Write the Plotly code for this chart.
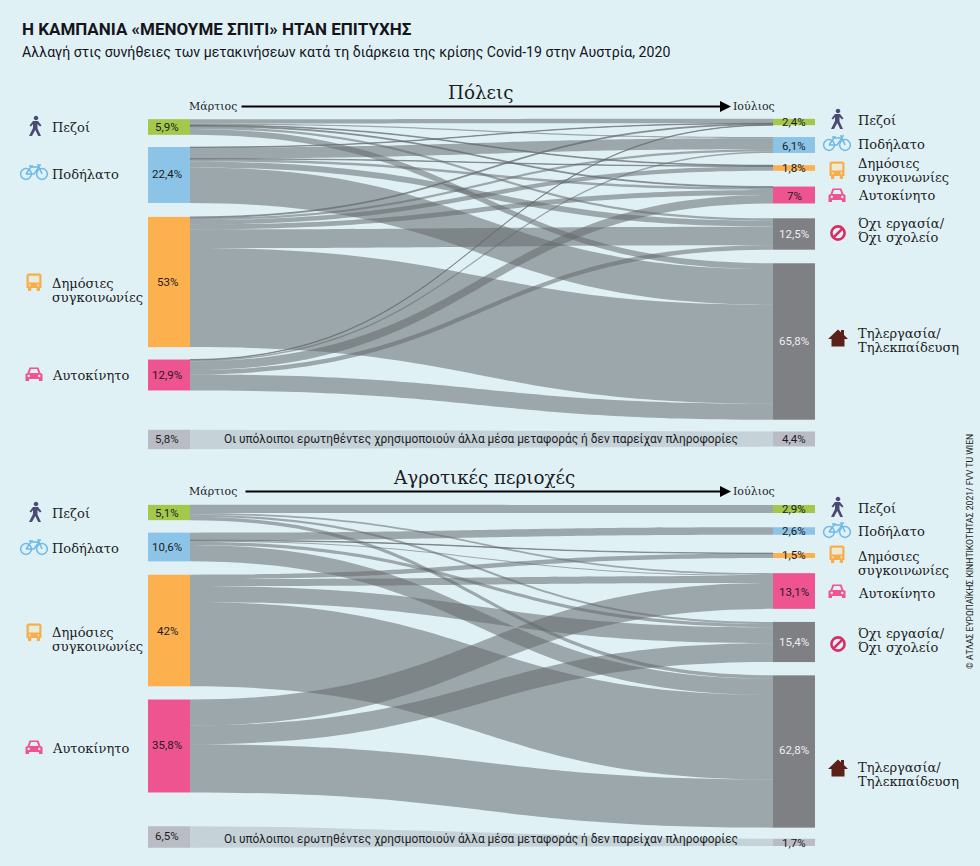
import numpy as np
import plotly.graph_objects as go

# ---------- DATA ----------
modes = ["Πεζοί", "Ποδήλατο", "Δημόσιες συγκοινωνίες", "Αυτοκίνητο"]
outcomes = ["Πεζοί", "Ποδήλατο", "Δημόσιες συγκοινωνίες", "Αυτοκίνητο",
            "Όχι εργασία/ Όχι σχολείο", "Τηλεργασία/ Τηλεκπαίδευση"]

city_march_labels = ["5,9%", "22,4%", "53%", "12,9%"]
city_july_labels = ["2,4%", "6,1%", "1,8%", "7%", "12,5%", "65,8%"]
rural_march_labels = ["5,1%", "10,6%", "42%", "35,8%"]
rural_july_labels = ["2,9%", "2,6%", "1,5%", "13,1%", "15,4%", "62,8%"]

# flows read from ribbon widths: rows = March mode, columns = July outcome
city_flows = [
    [1.8, 0.5, 0.3, 0.4, 1.0, 2.4],
    [0.2, 4.5, 0.2, 1.0, 2.4, 14.5],
    [0.4, 0.9, 1.8, 2.0, 7.6, 40.4],
    [0.2, 0.6, 0.0, 3.5, 1.8, 6.5],
]
rural_flows = [
    [3.1, 0.0, 0.0, 0.7, 0.8, 1.3],
    [0.0, 2.9, 0.2, 0.4, 1.3, 6.3],
    [0.0, 0.0, 1.7, 2.7, 6.1, 32.6],
    [0.0, 0.0, 0.0, 10.0, 7.3, 18.6],
]
city_other = [5.8, 4.4]
rural_other = [6.5, 1.7]
other_text = "Οι υπόλοιποι ερωτηθέντες χρησιμοποιούν άλλα μέσα μεταφοράς ή δεν παρείχαν πληροφορίες"

# ---------- STYLE / LAYOUT ----------
BG = "#e0f1f6"
LINK = "rgba(100,105,110,0.55)"
MODE_COLORS = ["#a4c84b", "#8cc4e8", "#fdb04e", "#ee5590"]
OUT_COLORS = MODE_COLORS + ["#7f8084", "#7f8084"]
OTHER_NODE = "#b9bcc4"
OTHER_BAND = "#c5d2d8"
SERIF = "DejaVu Serif"
SANS = "Roboto"
INK = "#1c1c22"

X0, X1, THICK = 148, 815, 42
city_dom = (118.5, 420.5, 13.85)      # top px, bottom px, node pad
rural_dom = (505, 828, 14.88)
city_left_c = [127, 175, 282, 375]    # node centres, px
city_right_c = [122, 145, 168, 195, 234, 341.5]
rural_left_c = [512.5, 547, 630.5, 746]
rural_right_c = [509, 531, 555.5, 591, 642, 751.5]


def sankey(flows, dom, left_c, right_c):
    top, bot, pad = dom
    H, W = bot - top, X1 - X0
    xs = [THICK / 2 / W] * 4 + [1 - THICK / 2 / W] * 6
    ys = [(c - top) / H for c in list(left_c) + list(right_c)]
    src, tgt, val = [], [], []
    for i, row in enumerate(flows):
        for j, v in enumerate(row):
            if v > 0:
                src.append(i)
                tgt.append(4 + j)
                val.append(v)
    return go.Sankey(
        arrangement="fixed",
        domain=dict(x=[X0 / 980, X1 / 980], y=[1 - bot / 866, 1 - top / 866]),
        textfont=dict(size=1, color="rgba(0,0,0,0)"),
        node=dict(pad=pad, thickness=THICK, x=xs, y=ys,
                  color=MODE_COLORS + OUT_COLORS,
                  line=dict(width=0), label=[""] * 10),
        link=dict(source=src, target=tgt, value=val, color=LINK,
                  line=dict(width=0)),
        hoverinfo="skip",
    )


fig = go.Figure()
fig.add_trace(sankey(city_flows, city_dom, city_left_c, city_right_c))
fig.add_trace(sankey(rural_flows, rural_dom, rural_left_c, rural_right_c))


# others strip: band and two end blocks on a hidden pixel axis
def strip_h(v):
    return 3 * v + 2


def other_strip(vals, cl, cr):
    hl, hr = strip_h(vals[0]), strip_h(vals[1])
    t = np.linspace(0, 1, 40)
    s = 3 * t ** 2 - 2 * t ** 3
    x = X0 + THICK + t * (X1 - THICK - X0 - THICK)
    upper = (cl - hl / 2) + s * ((cr - hr / 2) - (cl - hl / 2))
    lower = (cl + hl / 2) + s * ((cr + hr / 2) - (cl + hl / 2))
    fig.add_trace(go.Scatter(x=np.r_[x, x[::-1]], y=np.r_[upper, lower[::-1]], mode="lines",
                             fill="toself", fillcolor=OTHER_BAND, line=dict(width=0),
                             hoverinfo="skip", showlegend=False))
    fig.add_trace(go.Bar(orientation="h", base=[X0, X1 - THICK], x=[THICK, THICK], y=[cl, cr],
                         width=[hl, hr], marker=dict(color=OTHER_NODE, line=dict(width=0)),
                         hoverinfo="skip", showlegend=False))


other_strip(city_other, 439.5, 439)
other_strip(rural_other, 837, 842.4)

ann = []


def text(x, y, s, size=13, font=SERIF, color=INK, anchor="left", **kw):
    # annotation boxes add about 2 px on the left
    x = x - 2 if anchor == "left" else x
    ann.append(dict(x=x, y=y, xref="x", yref="y", text=s, showarrow=False, xanchor=anchor,
                    yanchor="middle", font=dict(size=size, family=font, color=color), **kw))


# headings
text(22, 29, "<b>Η ΚΑΜΠΑΝΙΑ «ΜΕΝΟΥΜΕ ΣΠΙΤΙ» ΗΤΑΝ ΕΠΙΤΥΧΗΣ</b>", size=17, font=SANS, color="#15151a")
text(22, 52, "Αλλαγή στις συνήθειες των μετακινήσεων κατά τη διάρκεια της κρίσης Covid-19 στην Αυστρία, 2020",
     size=14.15, font=SANS, color="#15151a")
text(480, 92, "Πόλεις", size=18.3, anchor="center")
text(484, 477, "Αγροτικές περιοχές", size=18.3, anchor="center")

# time arrows
for my, mx0, ax0 in [(106.5, 189, 240), (491.5, 189, 244)]:
    text(mx0, my, "Μάρτιος", size=11)
    text(733, my, "Ιούλιος", size=11)
    ann.append(dict(x=731, y=my, ax=ax0, ay=my, xref="x", yref="y", axref="x", ayref="y", text="",
                    showarrow=True, arrowhead=2, arrowsize=1.1, arrowwidth=2, arrowcolor="#000"))

# value labels
def node_labels(labels, centres, x, light_from=99):
    for i, (s, c) in enumerate(zip(labels, centres)):
        col = "#eeeeee" if i >= light_from else INK
        text(x, c, s, size=11.5, font=SANS, color=col, anchor="center")


node_labels(city_march_labels, [127, 174, 282, 375], 167)
node_labels(city_july_labels, [122, 146, 168, 196, 234, 341], 794, 4)
node_labels(rural_march_labels, [513, 547, 631, 745], 167)
node_labels(rural_july_labels, [509, 531, 555, 592, 642, 750], 794, 4)
node_labels(["5,8%"], [439], 167)
node_labels(["4,4%"], [439], 794)
node_labels(["6,5%"], [836], 167)
node_labels(["1,7%"], [843], 794)
text(481, 438.5, other_text, size=11.9, font=SANS, anchor="center")
text(481, 838.5, other_text, size=11.9, font=SANS, anchor="center")


def two(x, y, a, b):
    text(x, y - 7, a)
    text(x, y + 7, b)


# left category names
text(52, 127, modes[0]); text(52, 174, modes[1]); two(52, 290, "Δημόσιες", "συγκοινωνίες"); text(52, 375, modes[3])
text(52, 513, modes[0]); text(52, 548, modes[1]); two(52, 639, "Δημόσιες", "συγκοινωνίες"); text(52, 748, modes[3])
# right category names
text(858, 120, outcomes[0]); text(858, 144, outcomes[1]); two(858, 170, "Δημόσιες", "συγκοινωνίες")
text(858, 195, outcomes[3]); two(858, 230.5, "Όχι εργασία/", "Όχι σχολείο"); two(858, 340.5, "Τηλεργασία/", "Τηλεκπαίδευση")
text(858, 508, outcomes[0]); text(858, 531, outcomes[1]); two(858, 563, "Δημόσιες", "συγκοινωνίες")
text(858, 593, outcomes[3]); two(858, 640.5, "Όχι εργασία/", "Όχι σχολείο"); two(858, 774, "Τηλεργασία/", "Τηλεκπαίδευση")

# credit
text(970, 552, "© ΑΤΛΑΣ ΕΥΡΩΠΑΪΚΗΣ ΚΙΝΗΤΙΚΟΤΗΤΑΣ 2021/ FVV TU WIEN", size=8.6,
     font=SANS, anchor="center", textangle=-90, color="#222")

# ---------- ICONS (drawn as shapes) ----------
shapes = []


def poly(cx, cy, pts, close=True):
    return "M" + " L".join(f"{cx + a:.2f},{cy + b:.2f}" for a, b in pts) + (" Z" if close else "")


def circ(cx, cy, r):
    k = 0.5523 * r
    return (f"M{cx - r:.2f},{cy:.2f} C{cx - r:.2f},{cy - k:.2f} {cx - k:.2f},{cy - r:.2f} {cx:.2f},{cy - r:.2f} "
            f"C{cx + k:.2f},{cy - r:.2f} {cx + r:.2f},{cy - k:.2f} {cx + r:.2f},{cy:.2f} "
            f"C{cx + r:.2f},{cy + k:.2f} {cx + k:.2f},{cy + r:.2f} {cx:.2f},{cy + r:.2f} "
            f"C{cx - k:.2f},{cy + r:.2f} {cx - r:.2f},{cy + k:.2f} {cx - r:.2f},{cy:.2f} Z")


def add(path, fill=None, line=None, w=0):
    shapes.append(dict(type="path", path=path, xref="x", yref="y", layer="above",
                       fillcolor=fill or "rgba(0,0,0,0)",
                       line=dict(color=line or "rgba(0,0,0,0)", width=w)))


def person(cx, cy):
    c = "#4b4a72"
    add(circ(cx + 1, cy - 8, 2.3), fill=c)
    add(poly(cx, cy, [(-2, -5), (3, -5), (6.5, -0.5), (5, 0.5), (2.5, -2), (2.5, 2.5), (6, 10), (3.2, 10),
                      (0.3, 4), (-3, 10), (-6, 10), (-2, 2), (-2, -2), (-4, 0.5), (-5.5, -0.5)]), fill=c)


def bike(cx, cy):
    c = "#6db8e6"
    add(circ(cx - 8, cy + 2, 5.4), line=c, w=1.5)
    add(circ(cx + 8, cy + 2, 5.4), line=c, w=1.5)
    add(poly(cx, cy, [(-8, 2), (-3, -5), (5, -5), (8, 2)], close=False), line=c, w=1.5)
    add(poly(cx, cy, [(-8, 2), (0, 2), (5, -5)], close=False), line=c, w=1.5)
    add(poly(cx, cy, [(-5, -6), (-1, -6)], close=False), line=c, w=1.5)
    add(poly(cx, cy, [(5, -5), (4, -7), (7, -7)], close=False), line=c, w=1.5)


def bus(cx, cy):
    c = "#f7ae4a"
    add(poly(cx, cy, [(-6, -8.5), (6, -8.5), (7.5, -7), (7.5, 6), (-7.5, 6), (-7.5, -7)]), fill=c)
    add(poly(cx, cy, [(-5.3, -6.3), (5.3, -6.3), (5.3, 0.5), (-5.3, 0.5)]), fill="#e9ead8")
    add(poly(cx, cy, [(-6, 6), (-2.8, 6), (-2.8, 9), (-6, 9)]), fill=c)
    add(poly(cx, cy, [(2.8, 6), (6, 6), (6, 9), (2.8, 9)]), fill=c)
    add(circ(cx - 4.3, cy + 3.3, 1), fill="#fbe0b8")
    add(circ(cx + 4.3, cy + 3.3, 1), fill="#fbe0b8")


def car(cx, cy):
    c = "#ee5590"
    add(poly(cx, cy, [(-8.5, 7), (-8.5, 0), (-6.5, -1), (-4.5, -6.5), (4.5, -6.5), (6.5, -1), (8.5, 0), (8.5, 7),
                      (5, 7), (5, 5), (-5, 5), (-5, 7)]), fill=c)
    add(poly(cx, cy, [(-4.5, -1), (-3, -5), (3, -5), (4.5, -1)]), fill=BG)
    add(circ(cx - 5.3, cy + 2, 1.2), fill=BG)
    add(circ(cx + 5.3, cy + 2, 1.2), fill=BG)


def ban(cx, cy):
    c = "#d82c63"
    add(circ(cx, cy, 6.6), line=c, w=2.6)
    add(poly(cx, cy, [(-4.7, 4.7), (4.7, -4.7)], close=False), line=c, w=2.6)


def house(cx, cy):
    add(poly(cx, cy, [(-10, 1), (0, -8.5), (3, -5.8), (3, -8), (6, -8), (6, -3), (10, 1), (6.5, 1), (6.5, 8.5),
                      (-6.5, 8.5), (-6.5, 1)]), fill="#5b2019")


person(35, 126); bike(34, 172); bus(34, 282); car(34, 374)
person(837, 119); bike(837, 143); bus(837, 170); car(837, 195); ban(838, 233); house(838, 338)
person(35, 512); bike(34, 547); bus(34, 632); car(34, 747)
person(837, 507); bike(837, 530); bus(837, 554); car(837, 591); ban(838, 644); house(838, 768)

fig.update_layout(
    width=980, height=866, autosize=False,
    margin=dict(l=0, r=0, t=0, b=0),
    paper_bgcolor=BG, plot_bgcolor=BG,
    showlegend=False, barmode="overlay",
    xaxis=dict(range=[0, 980], visible=False, fixedrange=True, domain=[0, 1]),
    yaxis=dict(range=[866, 0], visible=False, fixedrange=True, domain=[0, 1]),
    annotations=ann, shapes=shapes,
)

fig.write_html("out.html", config=dict(displayModeBar=False),
               post_script="document.body.style.margin='0';document.documentElement.style.overflow='hidden';")
